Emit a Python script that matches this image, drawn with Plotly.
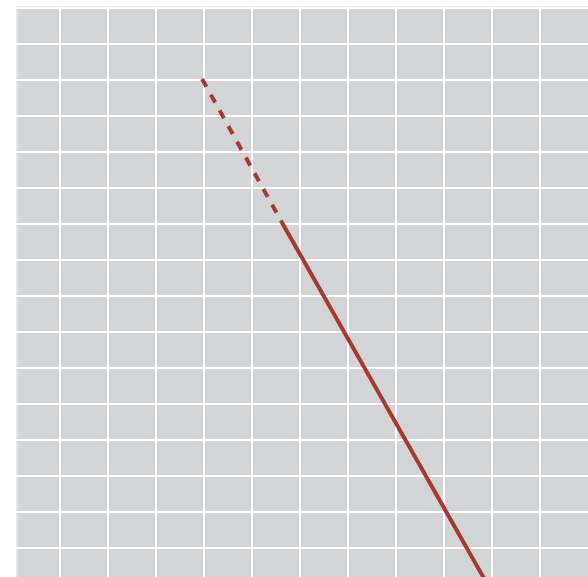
import plotly.graph_objects as go

# Trend line (data units)
dashed_x = [3.96, 5.6]
dashed_y = [14.03, 10.1]
solid_x = [5.6, 9.9]
solid_y = [10.1, 0.0]

line_color = "rgb(166,58,48)"

fig = go.Figure()
fig.add_trace(go.Scatter(x=dashed_x, y=dashed_y, mode="lines",
                         line=dict(color=line_color, width=4, dash="9px,9px"),
                         showlegend=False, hoverinfo="skip"))
fig.add_trace(go.Scatter(x=solid_x, y=solid_y, mode="lines",
                         line=dict(color=line_color, width=4),
                         showlegend=False, hoverinfo="skip"))

fig.update_layout(
    width=588, height=577,
    margin=dict(l=16, r=0, t=6, b=0),
    paper_bgcolor="white",
    plot_bgcolor="rgb(211,212,214)",
    showlegend=False,
    xaxis=dict(range=[0.0833, 12.0], dtick=1, tick0=0, showgrid=True,
               gridcolor="white", gridwidth=2, zeroline=False,
               showticklabels=False, ticks="", fixedrange=True),
    yaxis=dict(range=[0.194, 16.056], dtick=1, tick0=0, showgrid=True,
               gridcolor="white", gridwidth=2, zeroline=False,
               showticklabels=False, ticks="", fixedrange=True),
    shapes=[
        dict(type="rect", xref="paper", yref="paper", x0=0, x1=1, y0=0.9965, y1=1,
             fillcolor="rgb(226,227,229)", line_width=0, layer="below"),
        dict(type="rect", xref="paper", yref="paper", x0=0, x1=0.0035, y0=0, y1=1,
             fillcolor="rgb(226,227,229)", line_width=0, layer="below"),
    ],
)

fig.write_html(
    "out.html",
    config={"displayModeBar": False, "staticPlot": True},
    post_script="document.body.style.margin='0';document.body.style.overflow='hidden';",
)
